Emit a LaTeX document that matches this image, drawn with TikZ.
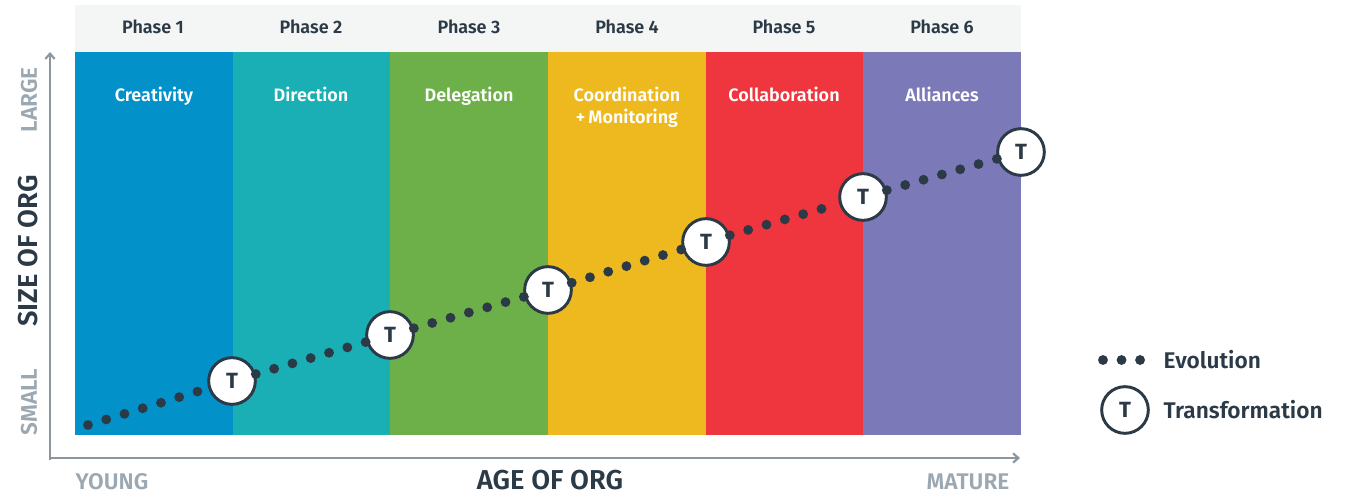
\documentclass[tikz,border=0pt]{standalone}
\usepackage{fontspec}
\setmainfont{Fira Sans}[BoldFont={Fira Sans SemiBold}]
\newfontfamily\heavy{Fira Sans Bold}
\usetikzlibrary{arrows.meta}
\definecolor{cBlue}{HTML}{0292C9}
\definecolor{cTeal}{HTML}{19AFB5}
\definecolor{cGreen}{HTML}{6DB04A}
\definecolor{cYellow}{HTML}{EEB91F}
\definecolor{cRed}{HTML}{EF353D}
\definecolor{cPurple}{HTML}{7B79B8}
\definecolor{cDark}{HTML}{2B3A46}
\definecolor{cGrayTxt}{HTML}{9BA8B2}
\definecolor{cAxis}{HTML}{8A96A0}
\definecolor{cHead}{HTML}{F4F6F6}
\tikzset{
  x=0.75pt, y=-0.75pt,
  phase/.style={font=\bfseries\fontsize{13.5}{15}\selectfont, text=cDark},
  coltitle/.style={font=\bfseries\fontsize{13.5}{16.5}\selectfont, text=white, align=center, anchor=north},
  tnode/.style={circle, draw=cDark, line width=2.2pt, fill=white, minimum size=35pt, inner sep=0pt,
     font=\heavy\fontsize{16.5}{18}\selectfont, text=cDark},
  evo/.style={cDark, line width=7.4pt, line cap=round, dash pattern=on 0pt off 14.3pt},
  legevo/.style={cDark, line width=7.4pt, line cap=round, dash pattern=on 0pt off 13.9pt},
  axis/.style={cAxis, line width=1.6pt, -{Straight Barb[length=4pt,width=7pt]}},
  axlbl/.style={font=\bfseries\fontsize{17}{20}\selectfont, text=cGrayTxt},
  axtitle/.style={font=\bfseries\fontsize{20.5}{23}\selectfont, text=cDark},
  legtxt/.style={font=\bfseries\fontsize{17}{20}\selectfont, text=cDark, anchor=west},
}
\begin{document}
\begin{tikzpicture}
\useasboundingbox (0,0) rectangle (1346,496);
% header band
\fill[cHead] (75,5) rectangle (1021,52);
% columns
\fill[cBlue]   (75,52)  rectangle (233,435);
\fill[cTeal]   (233,52) rectangle (390,435);
\fill[cGreen]  (390,52) rectangle (548,435);
\fill[cYellow] (548,52) rectangle (706,435);
\fill[cRed]    (706,52) rectangle (863,435);
\fill[cPurple] (863,52) rectangle (1021,435);
% phase labels
\node[phase] (p1) at (153,27) {Phase 1};
\node[phase] (p2) at (311,27) {Phase 2};
\node[phase] (p3) at (469,27) {Phase 3};
\node[phase] (p4) at (627,27) {Phase 4};
\node[phase] (p5) at (784,27) {Phase 5};
\node[phase] (p6) at (942,27) {Phase 6};
% column titles
\node[coltitle] (c1) at (154,82) {Creativity};
\node[coltitle] (c2) at (311,82) {Direction};
\node[coltitle] (c3) at (469,82) {Delegation};
\node[coltitle] (c4) at (627,82) {Coordination\\+\,Monitoring};
\node[coltitle] (c5) at (784,82) {Collaboration};
\node[coltitle] (c6) at (942,82) {Alliances};
% axes
\coordinate (o) at (50,458);
\coordinate (ytop) at (50,52);
\coordinate (xend) at (1020,458);
\draw[cAxis, line width=1.6pt] (50,460) -- (o);
\draw[axis] (o) -- (ytop);
\draw[axis] (49.2,458) -- (xend);
\node[axlbl, rotate=90] (large) at (29,100) {LARGE};
\node[axlbl, rotate=90] (small) at (29,402) {SMALL};
\node[axtitle, rotate=90] (size) at (28,251) {SIZE OF ORG};
\node[axlbl] (young) at (112,482) {YOUNG};
\node[axtitle] (age) at (550,480) {AGE OF ORG};
\node[axlbl] (mature) at (968,482) {MATURE};
% evolution path
\coordinate (s) at (88,425);
\node[tnode] (t1) at (232,381) {T};
\node[tnode] (t2) at (390,335) {T};
\node[tnode] (t3) at (548,290) {T};
\node[tnode] (t4) at (706,242) {T};
\node[tnode] (t5) at (863,197) {T};
\node[tnode] (t6) at (1021,152) {T};
\draw[evo] (s) -- (t1);
\draw[evo] (t1) -- (t2);
\draw[evo] (t2) -- (t3);
\draw[evo] (t3) -- (t4);
\draw[evo] (t4) -- (t5);
\draw[evo] (t5) -- (t6);
% legend
\coordinate (la) at (1103,360);
\coordinate (lb) at (1142,360);
\draw[legevo] (la) -- (lb);
\node[legtxt] (levo) at (1159,360) {Evolution};
\node[tnode] (lt) at (1125,410) {T};
\node[legtxt] (ltr) at (1159,410) {Transformation};
\end{tikzpicture}
\end{document}
